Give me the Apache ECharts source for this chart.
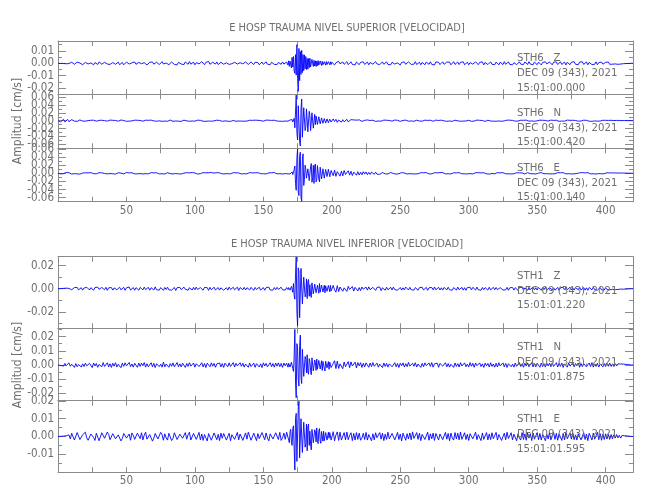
<!DOCTYPE html>
<html><head><meta charset="utf-8">
<script src="https://cdn.jsdelivr.net/npm/echarts@6/dist/echarts.min.js"></script>
<style>html,body{margin:0;padding:0;background:#fff}#c{width:650px;height:500px}</style>
</head><body><div id="c"></div>
<script>
// background samples: one value per time unit from 0 to 420
const sampleStep = 1;
// event window re-sampled more finely (two values per time unit, 168 to 199.5)
const eventStart = 168, eventEnd = 200, eventStep = 0.5;
// trace amplitudes, in units of 1e-4 cm/s
const ampUnit = 1e-4;

const sth6Z = [
0,1,-1,2,-1,3,-4,6,-2,-7,9,4,-8,-3,10,-6,2,8,-11,-4,
7,12,-5,-10,3,9,-12,6,-2,-9,11,5,-7,-13,8,2,-6,10,-9,-1,
6,13,-8,-4,9,-11,3,7,-12,-5,10,14,-6,-9,4,-2,11,-8,-10,7,
12,-3,-9,5,10,-13,-6,8,-2,11,-7,-12,9,4,-10,6,13,-5,-8,2,
9,-11,-4,10,7,-9,3,-13,8,12,-6,-2,-10,11,5,-8,14,-7,-3,9,
-12,6,10,-5,-9,13,2,-11,7,-4,15,-8,-12,9,3,-6,11,-10,-2,8,
10,-7,-11,4,12,-9,6,-3,-10,8,13,-6,-12,5,9,-4,-8,11,-1,-9,
7,11,-5,-10,9,-2,6,-12,4,10,-8,-3,12,-7,5,-11,8,2,-9,6,
-10,7,3,-8,11,-6,-9,10,-14,22,-30,48,35,-95,150,-226,120,-90,105,-75,
68,-40,55,22,-48,30,-36,41,-15,-30,28,12,-25,20,-18,-6,21,-12,15,-17,
9,14,-13,5,-10,16,-4,-12,11,-8,3,13,-11,-6,12,-9,7,-13,10,2,
-11,8,-4,12,-9,-3,10,-12,6,9,-7,-11,13,-5,8,-10,4,11,-8,-2,
12,-9,5,-12,8,10,-6,-11,3,9,-13,7,-4,11,-8,-10,12,2,-9,6,
-7,13,-10,-3,9,-12,7,4,-11,10,-5,-8,12,-9,6,-13,11,-2,8,-10,
5,12,-8,-11,10,-4,9,-12,3,13,-9,-6,11,-10,8,-3,12,-11,-5,9,
-12,6,10,-7,-9,12,4,-11,8,-3,11,-13,7,9,-10,-4,12,-8,6,-11,
10,-5,-12,9,3,-10,13,-8,-6,11,-9,7,-12,5,10,-11,-3,12,-7,8,
-10,11,-4,-9,13,-6,8,-12,10,-2,-11,9,6,-13,7,-8,12,-5,-10,11,
4,-12,9,-7,11,-10,-3,12,-9,6,10,-13,8,-4,-11,9,-6,13,-8,5,
-11,10,-6,12,-9,-4,11,-12,7,9,-10,3,-8,12,-11,6,-5,10,-7,-9,
8,-6,10,-8,4,-7,9,-5,6,-8,3,-6,5,-3,4,-2,3,-1,1,0,
0];
const sth6ZEvent = [
-14,20, -25,18, 32,-38, 48,-30, 55,-62, -80,70, -95,150, -120,-226,
120,-140, 95,-90, 105,-75, 70,-60, 68,-45, 55,-50, 40,-48, 38,-36,
41,-30, -28,32, 28,-25, 24,-22, 20,-26, 18,-20, 22,-15, -17,19,
15,-18, 16,-12, -14,13, 12,-15, 14,-10, -11,13, 10,-12, 12,-9];

const sth6N = [
0,12,-28,20,35,-30,-15,32,-24,8,27,-20,-10,22,-17,6,19,-14,-8,16,
-12,18,4,-16,11,-19,14,-6,-13,17,9,-15,12,-18,3,14,-11,-7,16,-13,
10,-17,6,15,-12,-8,18,-14,5,12,-16,9,-10,17,-5,-13,14,-9,11,-15,
7,16,-12,-4,13,-17,10,-8,15,-11,-6,18,-14,8,-3,12,-16,11,-9,14,
-13,5,17,-10,-15,12,-7,14,-12,9,-17,6,13,-11,-4,16,-14,10,-8,15,
-11,-6,14,-16,9,12,-13,4,-15,17,-9,7,-12,15,-5,-10,13,-14,8,11,
-16,10,-5,13,-12,8,-17,15,6,-11,-14,12,-8,16,-10,3,-13,14,-9,7,
12,-15,9,-6,14,-13,10,-17,5,11,-12,-7,15,-10,13,-16,8,-4,12,-11,
-9,14,-13,7,-15,11,-8,16,-12,10,-20,28,-45,-180,650,-490,420,-640,550,-380,
330,-150,290,-310,120,-260,250,-190,-100,120,-85,100,-60,75,-80,50,-65,45,-55,40,
-38,45,-20,35,-42,18,30,-36,25,-28,12,33,-30,-15,26,-22,20,-25,14,-18,
22,-9,-17,14,10,-16,19,-12,5,-15,13,8,-18,11,-6,16,-13,-4,15,-10,
12,-17,6,14,-11,-8,17,-13,10,-5,-16,12,7,-14,15,-9,-12,13,-6,11,
-15,9,13,-10,-7,16,-12,4,14,-17,8,-11,12,-3,-14,10,15,-13,6,-9,
14,-12,-5,17,-15,10,-8,12,-16,6,13,-11,-4,15,-13,9,-10,16,-7,-12,
11,8,-15,13,-9,-6,16,-14,10,-11,5,14,-17,7,12,-10,-8,15,-12,4,
-13,16,-7,11,-14,9,-5,-12,15,-10,13,-16,8,6,-11,14,-9,-15,12,-4,
10,-13,15,-8,-11,12,-6,17,-14,9,-3,-12,14,-10,11,-15,7,13,-9,-6,
15,-11,8,-14,12,4,-16,10,-9,13,-12,-5,16,-13,9,-7,11,-14,6,10,
-12,14,-8,-10,13,-15,9,5,-13,11,-16,12,-6,10,-11,14,-9,-4,12,-13,
9,-11,8,-6,10,-9,5,-8,7,-4,6,-7,3,-5,4,-2,3,-1,1,0,
0];
const sth6NEvent = [
-12,10, -15,18, -20,22, 28,-30, -45,60, -180,220, 650,-300, -490,380,
420,-520, -640,300, 550,-420, -380,330, 330,-250, -150,300, 290,-280, -310,240,
120,-250, -260,200, 250,-190, -190,160, -100,120, 120,-95, -85,100, 100,-80,
-60,70, 75,-65, -80,55, 50,-60, -65,45, 45,-50, -55,38, 40,-35];

const sth6E = [
0,6,-14,18,-9,-17,20,-12,15,4,-19,13,-8,17,-15,9,-20,14,7,-16,
12,-18,10,-5,17,-14,-9,19,-12,6,15,-17,11,-13,-4,18,-15,10,-7,16,
-11,14,-19,8,13,-16,5,17,-14,-10,19,-12,9,-18,14,3,-15,11,-13,17,
-6,15,-17,12,-9,18,-14,-5,16,-12,10,-19,13,7,-15,12,-11,16,-18,9,
14,-13,-8,17,-16,11,-6,19,-13,9,-17,14,4,-12,16,-15,10,-9,18,-14,
7,12,-18,15,-10,-5,17,-13,11,-16,14,-8,19,-14,6,-11,15,-17,10,3,
-15,13,-12,18,-9,16,-14,-7,15,-12,11,-18,9,14,-16,8,-10,17,-13,5,
16,-14,10,-17,12,-6,15,-13,-9,18,-11,13,-16,7,10,-15,14,-12,17,-8,
-13,15,-10,16,-17,12,-7,18,-15,20,-22,35,-40,180,-420,600,-550,520,-690,480,
-150,90,-160,140,-200,240,-110,-250,230,-160,220,-210,130,-125,90,-110,120,-70,95,-100,
85,-60,78,-75,40,72,-70,55,-65,68,-30,-60,62,-45,50,-55,30,45,-48,38,
-42,25,-36,40,-20,34,-35,22,-28,30,-12,-26,28,-22,15,-25,20,18,-22,-14,
20,-17,9,21,-18,-6,16,-19,14,-11,-15,18,-13,7,16,-18,12,-9,17,-14,
5,-16,19,-12,-8,15,-18,13,-10,17,4,-15,18,-12,-9,14,-17,11,-6,16,
-13,18,-7,-15,14,-11,19,-16,8,12,-18,10,-14,16,-5,-12,17,-13,9,-16,
14,-8,17,-15,-4,13,-18,16,-11,9,-17,14,7,-13,15,-19,10,-6,16,-12,
-9,16,-14,11,-18,15,-7,-12,17,-13,10,-16,19,-11,-5,14,-15,12,-17,8,
13,-17,6,15,-14,-9,18,-12,11,-16,14,5,-15,17,-10,-13,16,-8,12,-14,
10,-15,17,-11,-7,16,-18,13,-9,15,-12,-14,18,-10,7,-16,14,-13,11,-6,
-17,12,-10,18,-15,9,-13,16,-6,-14,17,-11,13,-18,10,-7,15,-12,14,-9,
-11,13,-8,10,-12,9,-7,8,-10,6,-5,7,-4,5,-3,4,-2,2,-1,0,
0];
const sth6EEvent = [
-15,18, 20,-16, -22,25, 35,-30, -40,90, 180,-250, -420,380, 600,-480,
-550,420, 520,-600, -690,350, 480,-300, -150,200, 90,-120, -160,110, 140,-180,
-200,160, 240,-220, -110,200, -250,180, 230,-210, -160,190, 220,-140, -210,150,
130,-140, -125,110, 90,-120, -110,95, 120,-80, -70,100, 95,-85, -100,70];

const sth1Z = [
0,0,1,-1,3,-2,5,-6,3,8,-9,-4,10,-7,12,-10,2,9,-12,6,
-8,13,-4,-11,9,6,-13,10,-7,14,-5,-12,11,3,-9,12,-14,8,-2,10,
-12,7,11,-9,-5,13,-10,4,12,-14,8,-6,15,-11,-3,10,-13,9,6,-12,
11,-4,-10,14,-8,5,12,-13,9,-2,-11,16,-9,7,-12,10,4,-14,11,-7,
13,-10,6,-12,3,11,-15,9,-6,12,-8,-10,14,-5,10,-13,8,2,-11,12,
-9,14,-7,-12,10,5,-13,11,-4,9,-14,12,-8,6,13,-11,-3,10,-12,8,
11,-13,4,9,-12,14,-6,-10,12,-9,7,13,-15,10,-5,-8,12,-11,9,-4,
-10,12,8,-14,11,-7,-9,13,-12,5,10,-13,9,-3,14,-11,6,-12,10,-8,
12,-6,-11,13,-9,7,-12,10,-8,14,-16,22,45,-90,275,-320,150,-250,175,-120,
90,-50,-85,80,35,-75,55,-30,48,-52,20,45,-40,38,-15,-35,32,-36,12,30,
-34,28,-10,-30,26,-25,15,24,-22,8,20,-23,21,-6,-19,18,-20,12,17,-19,
10,-16,15,-4,-17,14,-12,16,-8,-13,12,9,-14,11,-5,15,-16,8,3,-13,
13,-9,-5,12,-11,14,-7,10,-13,4,11,-12,8,-10,14,-3,-11,12,-9,7,
-12,10,6,-13,9,-8,13,-11,3,12,-14,8,-6,11,-10,15,-9,-4,12,-11,
8,-12,11,-5,-10,13,-9,7,-13,10,4,-12,14,-8,-6,11,-12,9,-14,10,
-7,13,-10,12,-4,-11,14,-9,6,-13,11,-8,10,3,-12,13,-10,-5,12,-9,
11,-8,-12,9,14,-11,5,-10,12,-13,8,-4,11,-12,9,6,-14,10,-7,13,
-11,7,10,-13,12,-6,-9,14,-10,8,-12,11,3,-13,10,-8,12,-11,-5,9,
12,-10,8,-12,4,11,-13,9,-7,12,-10,14,-9,-6,13,-11,7,-12,10,-3,
-9,13,-11,6,10,-12,8,-14,11,-5,-10,12,-8,9,-12,4,11,-10,7,-11,
10,-8,6,-9,8,-5,7,-8,4,-6,5,-3,4,-4,2,-3,2,-1,1,0,
0];
const sth1ZEvent = [
-8,10, 14,-12, -16,20, 22,-30, 45,-60, -90,120, 275,-200, -320,180,
150,-250, -250,175, 175,-130, -120,100, 90,-70, -50,85, -85,60, 80,-65,
35,-55, -75,50, 55,-45, -30,40, 48,-35, -52,30, 20,-38, 45,-30,
-40,32, 38,-28, -15,30, -35,25, 32,-22, -36,28, 12,-25, 30,-20];

const sth1N = [
0,2,-3,5,-8,11,-4,-13,15,-9,6,14,-17,10,-12,3,16,-14,8,-11,
13,-6,-15,12,9,-18,14,-7,11,-16,4,13,-12,17,-10,-5,15,-13,9,-17,
12,-8,16,-14,5,10,-19,13,-9,15,-6,-12,18,-11,7,-15,12,4,-16,14,
-10,13,-5,17,-15,9,-12,-4,16,-13,11,-18,8,14,-11,6,-15,20,-13,7,
12,-16,10,-9,15,-13,-6,17,-12,8,-14,13,5,-17,11,-10,16,-8,-12,14,
-15,9,12,-11,-7,16,-14,10,-18,13,4,-12,15,-9,11,-16,8,-5,14,-13,
10,-17,13,6,-12,15,-10,-8,17,-14,11,-6,-13,16,-9,12,-15,7,10,-16,
14,-11,-5,13,-16,9,12,-14,8,-18,15,-7,11,-13,-4,16,-12,10,-15,13,
-8,15,-12,11,-17,14,-6,13,-15,19,-16,28,-45,250,-230,120,-148,210,-130,100,
-70,40,72,-65,25,-68,60,-45,18,42,-40,44,-20,-38,35,-42,36,-12,-30,28,
-26,10,30,-25,27,-24,8,22,-26,21,-12,-20,24,-19,22,-7,-18,20,-21,17,
-6,16,-17,12,-13,15,4,-16,14,-11,17,-9,-14,13,-15,6,12,-18,14,-10,
11,-15,8,14,-12,-6,16,-13,10,-17,12,-5,15,-14,9,-11,18,-8,-13,12,
-9,16,-14,7,13,-17,11,-12,15,-4,-13,14,-10,17,-15,8,-6,13,-16,11,
14,-8,-12,16,-13,10,-15,5,12,-17,14,-10,9,-14,16,-7,-11,15,-12,6,
-13,17,-9,12,-16,14,-5,-12,15,-11,8,-17,13,-6,11,-14,16,-10,7,-15,
12,-14,16,-7,-10,15,-13,11,-17,9,13,-12,6,-15,14,-9,-12,17,-11,8,
-16,13,-8,15,-12,-5,17,-14,10,-13,12,7,-16,14,-11,9,-15,12,-6,13,
-12,15,-10,-7,16,-14,12,-9,13,-17,8,11,-15,14,-8,-12,16,-13,10,-5,
14,-16,11,-12,9,15,-13,-6,14,-11,17,-15,8,-10,13,-14,6,12,-13,10,
-11,12,-9,13,-10,8,-11,9,-7,8,-6,7,-5,6,-4,4,-3,2,-1,0,
0];
const sth1NEvent = [
-15,12, 19,-14, -16,20, 28,-25, -45,60, 250,-120, -230,150, 120,-100,
-148,130, 210,-90, -130,110, 100,-80, -70,60, 40,-55, 72,-50, -65,45,
25,-40, -68,50, 60,-42, -45,35, 18,-38, 42,-30, -40,32, 44,-28,
-20,30, -38,25, 35,-22, -42,26, 36,-20, -12,24, -30,20, 28,-18];

const sth1E = [
0,0,1,-1,2,-3,4,-6,9,-14,18,8,-20,-12,22,15,-17,-23,10,19,
24,-8,-21,-16,14,20,-6,-22,18,11,-24,-15,21,17,-10,-19,25,12,-18,-7,
16,23,-13,-20,9,19,-25,-11,17,22,-9,-18,14,-21,20,6,-16,-23,19,13,
-12,21,-19,8,24,-15,-22,11,18,-26,-9,17,20,-14,-19,23,10,-21,15,-8,
-20,18,12,-23,-11,21,16,-17,-24,13,19,-10,-18,22,-15,9,24,-20,-13,17,
21,-16,-9,23,-19,14,-22,11,18,-25,16,8,-21,-14,20,15,-18,12,-23,19,
-10,17,22,-20,-13,18,-24,10,21,-16,-8,23,-19,14,17,-22,-11,20,-15,24,
13,-21,-17,19,9,-23,16,-12,-19,22,14,-18,20,-9,-24,15,18,-14,-20,21,
11,-17,23,-22,-8,19,-16,24,30,-35,40,-50,60,-188,130,-150,198,-110,95,-85,
85,-40,-80,70,30,-75,45,-42,25,48,-40,44,-38,18,30,-28,32,-26,-10,29,
-25,27,-24,8,26,-22,24,-20,-12,22,-19,25,-18,6,21,-23,17,-20,22,-16,
19,-21,-9,18,-17,23,-20,11,16,-24,15,-19,21,-7,-18,22,-15,19,-23,13,
-16,24,-13,-20,17,21,-19,-10,23,-17,14,-25,19,8,-21,16,-14,20,-18,26,
-11,-19,22,-16,18,-23,12,20,-17,-9,24,-21,15,-13,19,-22,17,10,-20,14,
21,-18,-12,23,-15,17,-24,19,-8,-20,22,-14,18,-19,25,-16,-11,21,-17,12,
-22,16,19,-13,-21,24,-18,10,15,-23,20,-16,-9,22,-19,14,-17,21,-12,-15,
23,-20,11,17,-22,-14,19,-18,24,-11,-16,21,-19,13,18,-24,15,-8,-20,22,
-17,14,-21,19,-9,16,-23,20,-15,-12,22,-18,17,-20,11,19,-24,13,-14,21,
-19,-10,23,-16,18,-21,15,12,-22,17,-19,24,-13,-17,20,-15,21,-18,9,-20,
16,22,-19,-13,21,-17,14,-23,18,10,-20,19,-15,-11,23,-18,16,-21,13,-17,
15,-14,12,-16,11,-13,10,-9,11,-8,7,-9,6,-5,4,-4,3,-2,1,0,
0];
const sth1EEvent = [
30,-20, -35,28, 40,-32, -50,45, 60,-70, -188,100, 130,-140, -150,160,
198,-120, -110,100, 95,-90, -85,80, 85,-60, -40,70, -80,55, 70,-50,
30,-45, -75,40, 45,-35, -42,38, 25,-30, 48,-28, -40,30, 44,-25,
-38,28, 18,-26, 30,-24, -28,22, 32,-20, -26,24, -10,22, 29,-20];

const groupTitles = ['E HOSP TRAUMA NIVEL SUPERIOR [VELOCIDAD]', 'E HOSP TRAUMA NIVEL INFERIOR [VELOCIDAD]'];
const yAxisTitle = 'Amplitud [cm/s]';
const stationNames = ['STH6   Z', 'STH6   N', 'STH6   E', 'STH1   Z', 'STH1   N', 'STH1   E'];
const stationDates = ['DEC 09 (343), 2021', 'DEC 09 (343), 2021', 'DEC 09 (343), 2021', 'DEC 09 (343), 2021', 'DEC 09 (343), 2021', 'DEC 09 (343), 2021'];
const stationTimes = ['15:01:00.000', '15:01:00.420', '15:01:00.140', '15:01:01.220', '15:01:01.875', '15:01:01.595'];
const traces = [sth6Z, sth6N, sth6E, sth1Z, sth1N, sth1E];
const eventTraces = [sth6ZEvent, sth6NEvent, sth6EEvent, sth1ZEvent, sth1NEvent, sth1EEvent];

const xTickLabels = [50, 100, 150, 200, 250, 300, 350, 400];
const xTickMarks = [25, 50, 75, 100, 125, 150, 175, 200, 225, 250, 275, 300, 325, 350, 375, 400];

const yLabelsP1 = [-0.02, -0.01, 0, 0.01];
const yTicksP1 = [-0.02, -0.015, -0.01, -0.005, 0, 0.005, 0.01, 0.015];
const yLabelsP2 = [-0.06, -0.04, -0.02, 0, 0.02, 0.04, 0.06];
const yTicksP2 = [-0.07, -0.06, -0.05, -0.04, -0.03, -0.02, -0.01, 0, 0.01, 0.02, 0.03, 0.04, 0.05, 0.06];
const yLabelsP3 = [-0.06, -0.04, -0.02, 0, 0.02, 0.04, 0.06];
const yTicksP3 = [-0.06, -0.05, -0.04, -0.03, -0.02, -0.01, 0, 0.01, 0.02, 0.03, 0.04, 0.05, 0.06];
const yLabelsP4 = [-0.02, 0, 0.02];
const yTicksP4 = [-0.03, -0.02, -0.01, 0, 0.01, 0.02];
const yLabelsP5 = [-0.02, -0.01, 0, 0.01, 0.02];
const yTicksP5 = [-0.02, -0.015, -0.01, -0.005, 0, 0.005, 0.01, 0.015, 0.02, 0.025];
const yLabelsP6 = [-0.01, 0, 0.01, 0.02];
const yTicksP6 = [-0.015, -0.01, -0.005, 0, 0.005, 0.01, 0.015];

// layout (pixels) and axis extents for each panel
const panels = [
  {top: 41,    height: 53.3, min: -0.025, max: 0.018,  labels: yLabelsP1, ticks: yTicksP1, xLabels: false, text: 60},
  {top: 94.3,  height: 54,   min: -0.07,  max: 0.067,  labels: yLabelsP2, ticks: yTicksP2, xLabels: false, text: 114.3},
  {top: 148.3, height: 53.4, min: -0.07,  max: 0.0616, labels: yLabelsP3, ticks: yTicksP3, xLabels: true,  text: 169.3},
  {top: 256.7, height: 71.6, min: -0.0341,max: 0.0276, labels: yLabelsP4, ticks: yTicksP4, xLabels: false, text: 277.3},
  {top: 328.3, height: 72.4, min: -0.0251,max: 0.0258, labels: yLabelsP5, ticks: yTicksP5, xLabels: false, text: 349},
  {top: 400.7, height: 71.6, min: -0.0201,max: 0.0201, labels: yLabelsP6, ticks: yTicksP6, xLabels: true,  text: 421}
];

const FONT = '"DejaVu Sans Condensed", "DejaVu Sans", sans-serif';
const TXT = '#6e6e6e';
const FRAME = '#8a8a8a';
const X_MIN = 0, X_MAX = 420;

function buildData(main, ev) {
  const out = [];
  main.forEach((v, k) => {
    const x = X_MIN + k * sampleStep;
    if (x < eventStart) out.push([x, v * ampUnit]);
  });
  ev.forEach((v, k) => out.push([eventStart + k * eventStep, v * ampUnit]));
  main.forEach((v, k) => {
    const x = X_MIN + k * sampleStep;
    if (x >= eventEnd) out.push([x, v * ampUnit]);
  });
  return out;
}

const labelStyle = {margin: 4, hideOverlap: false, showMinLabel: true, showMaxLabel: true,
  formatter: v => Number(v).toFixed(2), color: TXT, fontFamily: FONT, fontSize: 11.5};

const grids = [], xAxes = [], yAxes = [], series = [], graphics = [];
panels.forEach((p, i) => {
  grids.push({left: 58, width: 575, top: p.top, height: p.height, containLabel: false});
  const lineS = {color: FRAME, width: 1};
  // labels split over two coincident axes so that the library does not drop close ones
  const labA = p.labels.filter((v, k) => k % 2 === 0);
  const labB = p.labels.filter((v, k) => k % 2 === 1);
  ['bottom', 'top'].forEach(pos => {
    xAxes.push({
      gridIndex: i, type: 'value', min: X_MIN, max: X_MAX, position: pos,
      axisLine: {show: true, onZero: false, lineStyle: lineS},
      axisTick: {show: true, inside: true, length: 5, customValues: xTickMarks, lineStyle: lineS},
      axisLabel: {show: pos === 'bottom' && p.xLabels, customValues: xTickLabels, margin: 3,
        hideOverlap: false, showMinLabel: true, showMaxLabel: true,
        color: TXT, fontFamily: FONT, fontSize: 11.5},
      splitLine: {show: false}
    });
  });
  ['left', 'right'].forEach(pos => {
    yAxes.push({
      gridIndex: i, type: 'value', min: p.min, max: p.max, position: pos,
      axisLine: {show: true, onZero: false, lineStyle: lineS},
      axisTick: {show: true, inside: true, length: 8, customValues: p.labels, lineStyle: lineS},
      axisLabel: Object.assign({show: pos === 'left', customValues: labA}, labelStyle),
      splitLine: {show: false}
    });
    yAxes.push({
      gridIndex: i, type: 'value', min: p.min, max: p.max, position: pos,
      axisLine: {show: false, onZero: false},
      axisTick: {show: true, inside: true, length: 4, customValues: p.ticks, lineStyle: lineS},
      axisLabel: Object.assign({show: pos === 'left' && labB.length > 0, customValues: labB.length ? labB : labA}, labelStyle),
      splitLine: {show: false}
    });
  });
  series.push({
    type: 'line', xAxisIndex: i * 2, yAxisIndex: i * 4,
    data: buildData(traces[i], eventTraces[i]),
    showSymbol: false, symbol: 'none', silent: true, clip: true,
    lineStyle: {color: '#0000ff', width: 0.9}
  });
  [stationNames[i], stationDates[i], stationTimes[i]].forEach((t, j) => {
    graphics.push({type: 'text', left: 517, top: p.text + j * 14.8 - 7, z: 100,
      style: {text: t, fill: TXT, font: '11.3px ' + FONT}});
  });
});

graphics.push({type: 'text', x: 347, y: 28, z: 100,
  style: {text: groupTitles[0], fill: TXT, font: '11px ' + FONT, textAlign: 'center', textVerticalAlign: 'middle'}});
graphics.push({type: 'text', x: 347, y: 244.5, z: 100,
  style: {text: groupTitles[1], fill: TXT, font: '11px ' + FONT, textAlign: 'center', textVerticalAlign: 'middle'}});
graphics.push({type: 'text', x: 18, y: 121, rotation: Math.PI / 2, z: 100,
  style: {text: yAxisTitle, fill: TXT, font: '12px ' + FONT, textAlign: 'center', textVerticalAlign: 'middle'}});
graphics.push({type: 'text', x: 18, y: 365, rotation: Math.PI / 2, z: 100,
  style: {text: yAxisTitle, fill: TXT, font: '12px ' + FONT, textAlign: 'center', textVerticalAlign: 'middle'}});

const chart = echarts.init(document.getElementById('c'), null, {renderer: 'canvas'});
chart.setOption({
  animation: false,
  backgroundColor: '#fff',
  grid: grids, xAxis: xAxes, yAxis: yAxes, series: series, graphic: graphics
});
</script></body></html>
